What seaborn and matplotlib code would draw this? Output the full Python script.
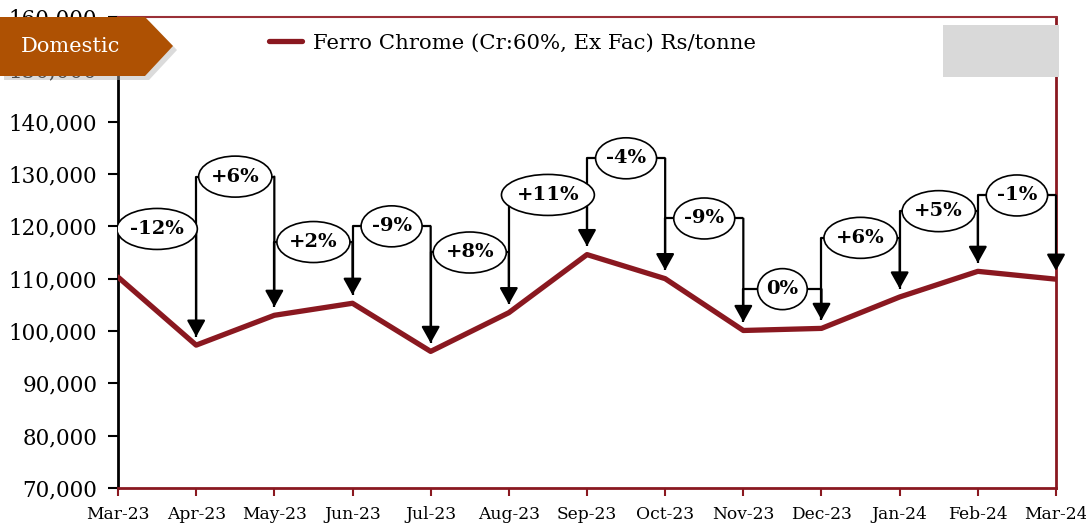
import matplotlib
matplotlib.use("Agg")
import matplotlib.pyplot as plt
import matplotlib.patches as mpatches
from matplotlib.ticker import FuncFormatter
import seaborn as sns
import pandas as pd

# ---- data ----
months = ['Mar-23', 'Apr-23', 'May-23', 'Jun-23', 'Jul-23', 'Aug-23', 'Sep-23',
          'Oct-23', 'Nov-23', 'Dec-23', 'Jan-24', 'Feb-24', 'Mar-24']
price = [110300, 97300, 103000, 105300, 96100, 103500, 114600,
         110000, 100100, 100500, 106500, 111400, 109900]
change_labels = ['-12%', '+6%', '+2%', '-9%', '+8%', '+11%', '-4%',
                 '-9%', '0%', '+6%', '+5%', '-1%']
callout_level = [119500, 129500, 117000, 120000, 115000, 126000, 133000,
                 121500, 108000, 117800, 122900, 125900]
series_name = 'Ferro Chrome (Cr:60%, Ex Fac) Rs/tonne'
badge_text = 'Domestic'

sns.set_style("white")
plt.rcParams['font.family'] = ['DejaVu Serif']
plt.rcParams['text.color'] = 'black'
plt.rcParams['xtick.color'] = 'black'
plt.rcParams['ytick.color'] = 'black'

DARK_RED = '#8A1820'
BADGE = '#AE5103'

W, H = 1086, 523
fig = plt.figure(figsize=(W / 100, H / 100), dpi=100)
ax_left, ax_right, ax_bottom, ax_top = 118 / W, 1056 / W, 1 - 488 / H, 1 - 17 / H
ax = fig.add_axes([ax_left, ax_bottom, ax_right - ax_left, ax_top - ax_bottom])

df = pd.DataFrame({'idx': range(len(months)), 'price': price, 'series': series_name})
sns.lineplot(data=df, x='idx', y='price', hue='series', palette=[DARK_RED],
             linewidth=3.8, ax=ax, zorder=3, legend=False)

ax.set_xlim(0, len(months) - 1)
ax.set_ylim(70000, 160000)
ax.set_xticks(range(len(months)))
ax.set_xticklabels(months)
ax.set_yticks(range(70000, 160001, 10000))
ax.yaxis.set_major_formatter(FuncFormatter(lambda v, p: f'{int(v):,}'))
ax.set_xlabel('')
ax.set_ylabel('')

ax.tick_params(axis='y', direction='out', length=7, width=1.5, color='black',
               labelcolor='black', labelsize=15.5, pad=8, left=True)
ax.tick_params(axis='x', direction='out', length=6, width=1.5, color=DARK_RED,
               labelcolor='black', labelsize=12.3, pad=7, bottom=True)
ax.spines['left'].set_color('black')
ax.spines['left'].set_linewidth(2)
for s in ['bottom', 'right']:
    ax.spines[s].set_color(DARK_RED)
    ax.spines[s].set_linewidth(2)
ax.spines['top'].set_color('#9A3038')
ax.spines['top'].set_linewidth(1.5)
for s in ax.spines.values():
    s.set_visible(True)
ax.grid(False)

# legend
handle = plt.Line2D([], [], color=DARK_RED, lw=3.8, solid_capstyle='round')
leg = fig.legend([handle], [series_name], loc='center left',
                 bbox_to_anchor=(269 / W, 1 - 43 / H), frameon=False,
                 fontsize=15.3, handlelength=1.55, handletextpad=0.5,
                 borderpad=0, borderaxespad=0, labelcolor='black')

# callouts
off = 1600
for i, (lab, lev) in enumerate(zip(change_labels, callout_level)):
    x0, x1 = i, i + 1
    y0, y1 = price[i] + off, price[i + 1] + off
    ax.plot([x0, x0, x1], [y0, lev, lev], color='black', lw=1.6, zorder=4,
            solid_capstyle='butt')
    ax.annotate('', xy=(x1, y1), xytext=(x1, lev),
                arrowprops=dict(arrowstyle='-|>,head_length=0.5,head_width=0.28',
                                color='black', lw=1.6, mutation_scale=20,
                                shrinkA=0, shrinkB=0), zorder=4)

texts = []
for i, (lab, lev) in enumerate(zip(change_labels, callout_level)):
    t = ax.text(i + 0.5, lev, lab, ha='center', va='center', fontsize=14,
                fontweight='bold', color='black', zorder=7)
    texts.append(t)

fig.canvas.draw()
renderer = fig.canvas.get_renderer()
ax_w_px = (ax_right - ax_left) * W
ax_h_px = (ax_top - ax_bottom) * H
for i, (t, lev) in enumerate(zip(texts, callout_level)):
    tw = t.get_window_extent(renderer).width
    ew = (tw * 1.42 + 4) * (len(months) - 1) / ax_w_px
    eh = 41 * 90000 / ax_h_px
    e = mpatches.Ellipse((i + 0.5, lev), ew, eh, facecolor='white',
                         edgecolor='black', lw=1.2, zorder=6)
    ax.add_patch(e)

# grey box top-right
fig.patches.append(mpatches.Rectangle((943 / W, 1 - 77 / H), 116 / W, 52 / H,
                                      transform=fig.transFigure,
                                      facecolor='#D9D9D9', edgecolor='none',
                                      zorder=10))

# Domestic badge with shadow
def badge(dx, dy, color, z, alpha=1.0):
    pts = [(0 + dx, 17 + dy), (145 + dx, 17 + dy), (173 + dx, 46 + dy),
           (145 + dx, 76 + dy), (0 + dx, 76 + dy)]
    pts = [(x / W, 1 - y / H) for x, y in pts]
    fig.patches.append(mpatches.Polygon(pts, closed=True, transform=fig.transFigure,
                                        facecolor=color, edgecolor='none',
                                        zorder=z, alpha=alpha))

badge(4, 4, '#b0b0b0', 10, alpha=0.45)
badge(0, 0, BADGE, 11)
fig.text(70 / W, 1 - 47 / H, badge_text, ha='center', va='center', color='white',
         fontsize=15, zorder=12)

fig.savefig('out.png', dpi=100)
